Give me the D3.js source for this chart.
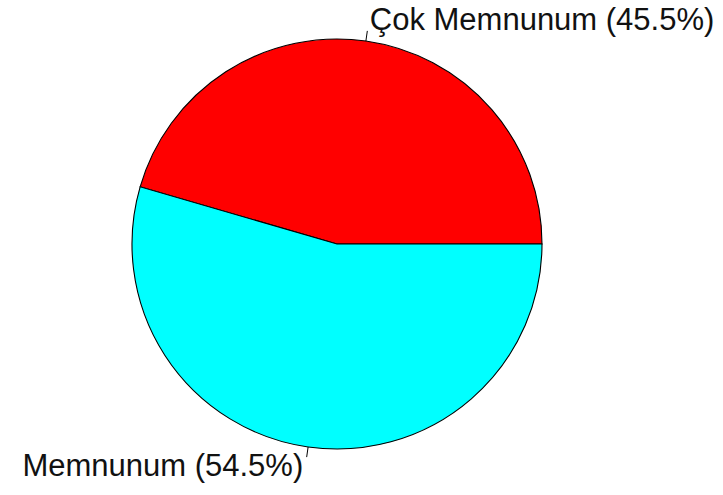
<!DOCTYPE html>
<html>
<head>
<meta charset="utf-8">
<script src="https://cdn.jsdelivr.net/npm/d3@7"></script>
<style>
  html, body { margin: 0; padding: 0; background: #fff; }
  svg { display: block; }
</style>
</head>
<body>
<script>
const categories = ["Çok Memnunum", "Memnunum"];
const values = [45.5, 54.5];
const colors = ["#FF0000", "#00FFFF"];

const W = 723, H = 495;
const cx = 337, cy = 244, r = 205;

const svg = d3.select("body").append("svg")
  .attr("width", W).attr("height", H);

const g = svg.append("g").attr("transform", `translate(${cx},${cy})`);

// R-style pie: start at 3 o'clock, go counterclockwise
const pie = d3.pie().sort(null).value(d => d)
  .startAngle(Math.PI / 2).endAngle(Math.PI / 2 - 2 * Math.PI);
const arcs = pie(values);
const arc = d3.arc().innerRadius(0).outerRadius(r);

g.selectAll("path.slice").data(arcs).enter().append("path")
  .attr("class", "slice")
  .attr("d", arc)
  .attr("fill", (d, i) => colors[i])
  .attr("stroke", "#000")
  .attr("stroke-width", 1.1);

arcs.forEach((d, i) => {
  const a = (d.startAngle + d.endAngle) / 2; // d3 angle, 0 at top, clockwise
  const ux = Math.sin(a), uy = -Math.cos(a);
  g.append("line")
    .attr("x1", ux * r).attr("y1", uy * r)
    .attr("x2", ux * r * 1.05).attr("y2", uy * r * 1.05)
    .attr("stroke", "#000").attr("stroke-width", 1);
  const lx = ux * r * 1.1, ly = uy * r * 1.1;
  g.append("text")
    .attr("x", lx + (ux >= 0 ? 1 : -2))
    .attr("y", ly + 9)
    .attr("text-anchor", ux >= 0 ? "start" : "end")
    .attr("font-family", "'Liberation Sans', Arial, sans-serif")
    .attr("font-size", 31)
    .attr("fill", "#111")
    .text(`${categories[i]} (${values[i]}%)`);
});
</script>
</body>
</html>
